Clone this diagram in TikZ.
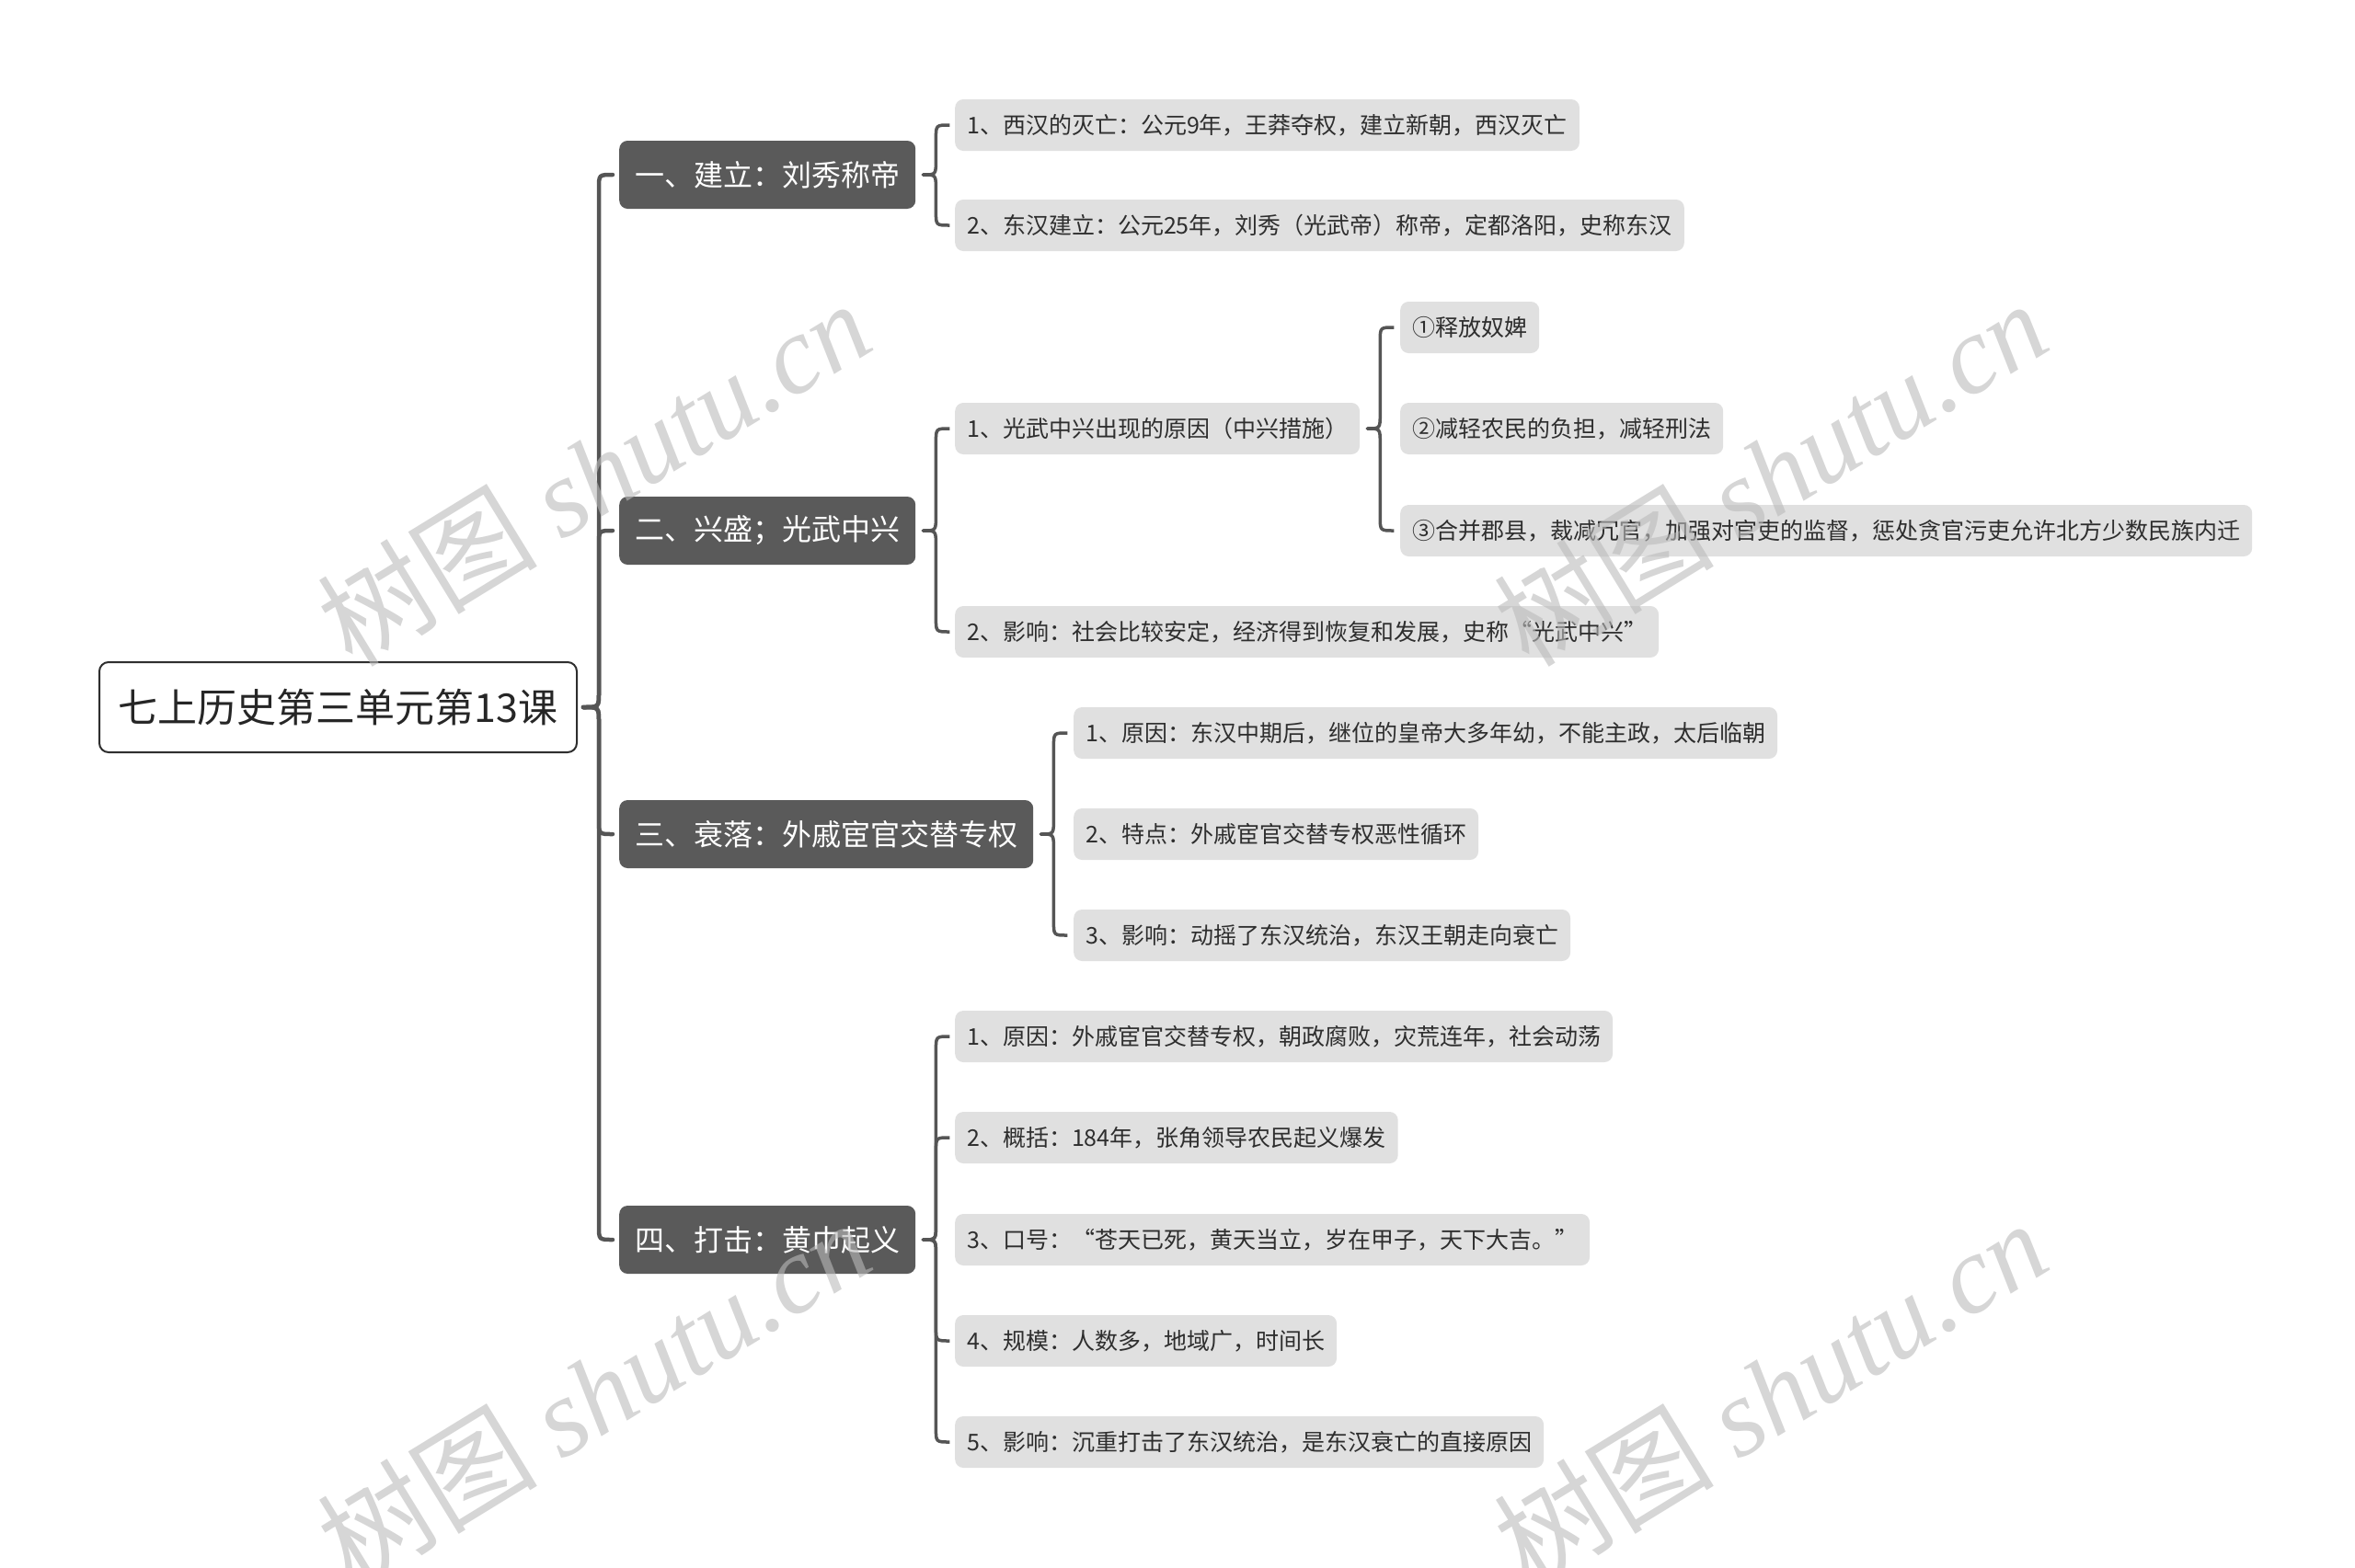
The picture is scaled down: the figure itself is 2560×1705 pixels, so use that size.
\documentclass[tikz,border=0pt]{standalone}
\usepackage{fontspec}
\setmainfont{Noto Sans CJK SC}
\newfontfamily\wmlat{Liberation Serif}
\usetikzlibrary{calc}
\definecolor{lvone}{HTML}{5A5A5A}
\definecolor{lvtwo}{HTML}{E0E0E0}
\definecolor{lnk}{HTML}{555555}
\definecolor{txt}{HTML}{2E2E2E}
\definecolor{wm}{HTML}{BABABA}
% #1 line width, #2 tip coordinate, #3 child node, #4 horizontal offset of the vertical stroke
\newcommand\brc[4]{%
  \draw[lnk, line width=#1, line cap=round] let \p1=(#2), \p2=(#3.west), \n1={sign(\y2-\y1)} in
    (\p1) .. controls (\x1+#4,\y1) .. (\x1+#4,\y1+\n1*16pt)
    -- (\x1+#4,\y2-\n1*15pt) .. controls (\x1+#4,\y2) .. (\x1+#4+15pt,\y2)
    -- (\x2-7pt,\y2);}
\begin{document}
\begin{tikzpicture}[x=1pt,y=-1pt,
  rootbox/.style={draw=txt, line width=2pt, fill=white, rounded corners=10pt,
    minimum width=519pt, minimum height=98pt, inner sep=0pt,
    font=\fontsize{43}{50}\selectfont, text=black!85},
  lone/.style={fill=lvone, rounded corners=9pt, text=white, minimum height=74pt,
    inner xsep=17pt, inner ysep=0pt, anchor=west, font=\fontsize{32}{38}\selectfont},
  ltwo/.style={fill=lvtwo, rounded corners=9pt, text=txt, minimum height=56pt,
    inner xsep=13pt, inner ysep=0pt, anchor=west, font=\fontsize{25}{30}\selectfont},
  wmark/.style={text=wm, opacity=0.6, rotate=31.5, inner sep=0pt,
    font=\fontsize{120}{140}\selectfont}]
\useasboundingbox (0,0) rectangle (2560,1705);

% root
\node[rootbox] (root) at (367.5,769) {七上历史第三单元第13课};

% level 1
\node[lone] (A) at (673,190) {一、建立：刘秀称帝};
\node[lone] (B) at (673,577) {二、兴盛；光武中兴};
\node[lone] (C) at (673,907) {三、衰落：外戚宦官交替专权};
\node[lone] (D) at (673,1348) {四、打击：黄巾起义};

% level 2
\node[ltwo] (A1) at (1038,136) {1、西汉的灭亡：公元9年，王莽夺权，建立新朝，西汉灭亡};
\node[ltwo] (A2) at (1038,245) {2、东汉建立：公元25年，刘秀（光武帝）称帝，定都洛阳，史称东汉};

\node[ltwo] (B1) at (1038,466) {1、光武中兴出现的原因（中兴措施）};
\node[ltwo] (B2) at (1038,687) {2、影响：社会比较安定，经济得到恢复和发展，史称“光武中兴”};

\node[ltwo] (B11) at (1522,356) {①释放奴婢};
\node[ltwo] (B12) at (1522,466) {②减轻农民的负担，减轻刑法};
\node[ltwo] (B13) at (1522,577) {③合并郡县，裁减冗官，加强对官吏的监督，惩处贪官污吏允许北方少数民族内迁};

\node[ltwo] (C1) at (1167,797) {1、原因：东汉中期后，继位的皇帝大多年幼，不能主政，太后临朝};
\node[ltwo] (C2) at (1167,907) {2、特点：外戚宦官交替专权恶性循环};
\node[ltwo] (C3) at (1167,1017) {3、影响：动摇了东汉统治，东汉王朝走向衰亡};

\node[ltwo] (D1) at (1038,1127) {1、原因：外戚宦官交替专权，朝政腐败，灾荒连年，社会动荡};
\node[ltwo] (D2) at (1038,1237) {2、概括：184年，张角领导农民起义爆发};
\node[ltwo] (D3) at (1038,1348) {3、口号：“苍天已死，黄天当立，岁在甲子，天下大吉。”};
\node[ltwo] (D4) at (1038,1458) {4、规模：人数多，地域广，时间长};
\node[ltwo] (D5) at (1038,1568) {5、影响：沉重打击了东汉统治，是东汉衰亡的直接原因};

% brace tips
\coordinate (tR) at ([xshift=6pt]root.east);
\coordinate (tA) at ([xshift=8pt]A.east);
\coordinate (tB) at ([xshift=8pt]B.east);
\coordinate (tC) at ([xshift=8pt]C.east);
\coordinate (tD) at ([xshift=8pt]D.east);
\coordinate (tB1) at ([xshift=8pt]B1.east);

% connectors
\brc{4.5pt}{tR}{A}{17pt}
\brc{4.5pt}{tR}{B}{17pt}
\brc{4.5pt}{tR}{C}{17pt}
\brc{4.5pt}{tR}{D}{17pt}

\brc{3.5pt}{tA}{A1}{14pt}
\brc{3.5pt}{tA}{A2}{14pt}

\brc{3.5pt}{tB}{B1}{14pt}
\brc{3.5pt}{tB}{B2}{14pt}

\brc{3.5pt}{tB1}{B11}{14pt}
\brc{3.5pt}{tB1}{B13}{14pt}

\brc{3.5pt}{tC}{C1}{14pt}
\brc{3.5pt}{tC}{C3}{14pt}

\brc{3.5pt}{tD}{D1}{14pt}
\brc{3.5pt}{tD}{D2}{14pt}
\brc{3.5pt}{tD}{D4}{14pt}
\brc{3.5pt}{tD}{D5}{14pt}

% watermarks
\node[wmark] (w1) at (645,514) {树图 {\wmlat\itshape shutu.cn}};
\node[wmark] (w2) at (1924,514) {树图 {\wmlat\itshape shutu.cn}};
\node[wmark] (w3) at (645,1514) {树图 {\wmlat\itshape shutu.cn}};
\node[wmark] (w4) at (1924,1514) {树图 {\wmlat\itshape shutu.cn}};
\end{tikzpicture}
\end{document}
